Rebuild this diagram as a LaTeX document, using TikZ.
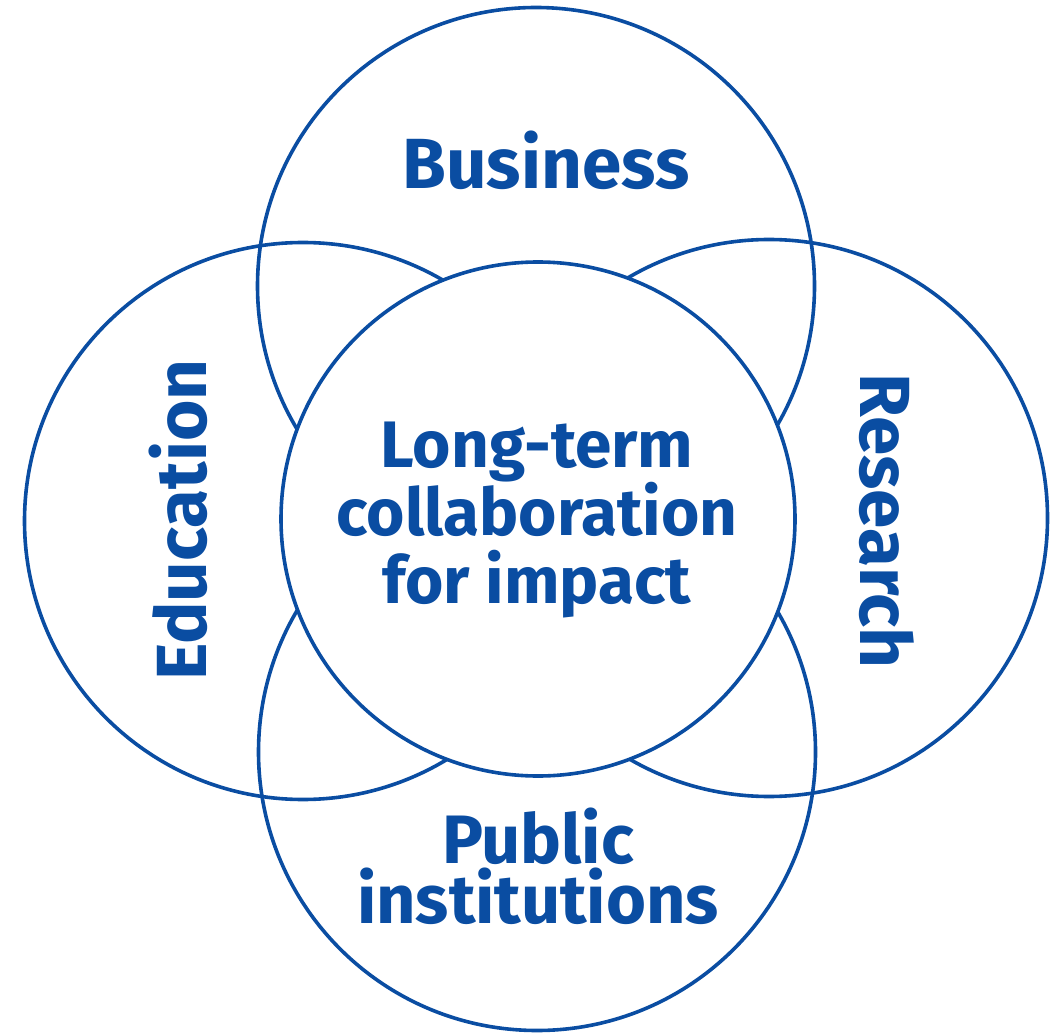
\documentclass[tikz,border=0pt]{standalone}
\usepackage{fontspec}
\setmainfont{Fira Sans}
\definecolor{venblue}{HTML}{0A4DA2}
\tikzset{
  ring/.style={circle, draw=venblue, line width=0.36mm, inner sep=0pt, minimum size=55.7mm},
  tag/.style={text=venblue, font=\bfseries\fontsize{20.2}{24}\selectfont, align=center, inner sep=0pt}
}
\begin{document}
\begin{tikzpicture}[x=0.1mm, y=-0.1mm]
  \useasboundingbox (0,0) rectangle (1050,1033);
  % outer circles
  \node[ring] (business) at (536,286) {};
  \node[ring] (public) at (537,752) {};
  \node[ring] (education) at (303,521) {};
  \node[ring] (research) at (769,518) {};
  % centre circle on top
  \node[ring, fill=white, minimum size=51.4mm] (impact) at (538,519) {};
  % labels
  \node[tag] (lbusiness) at (546,160) {Business};
  \node[tag] (leducation) at (178,520) [rotate=90] {Education};
  \node[tag] (lresearch) at (887,521) [rotate=-90] {Research};
  \node[tag, font=\bfseries\fontsize{19.5}{17}\selectfont] (lpublic) at (538,866) {Public\\institutions};
  \node[tag, font=\bfseries\fontsize{18.7}{19.4}\selectfont] (limpact) at (537,520) {Long-term\\collaboration\\for impact};
\end{tikzpicture}
\end{document}
